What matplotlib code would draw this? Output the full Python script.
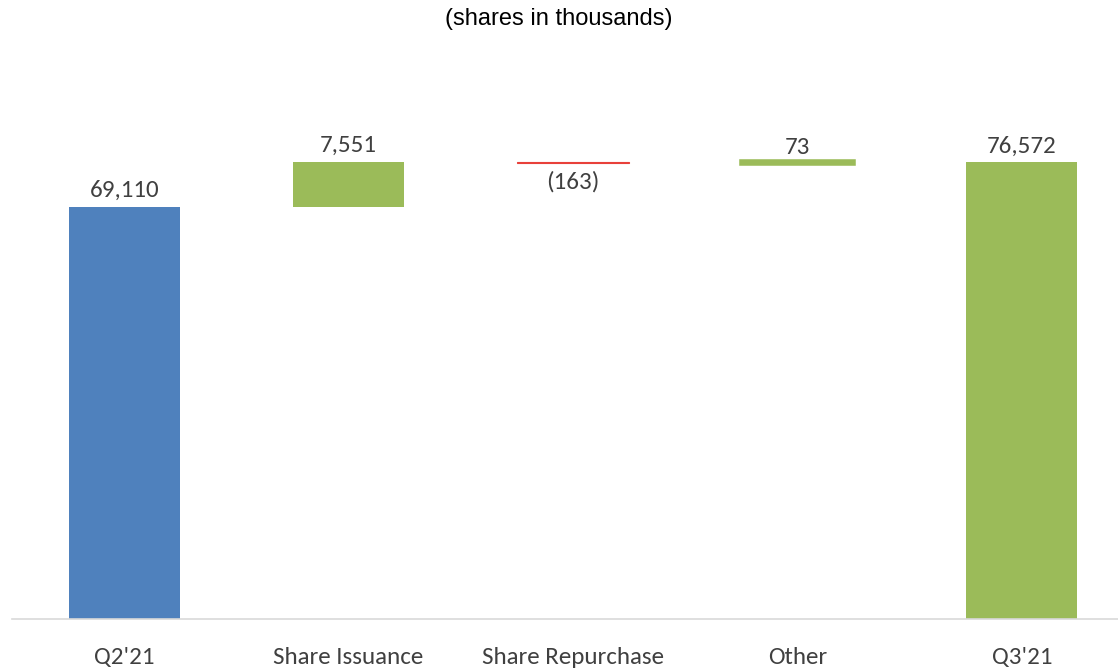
import matplotlib

matplotlib.use("Agg")
import matplotlib.pyplot as plt

# share count bridge, in thousands
categories = ["Q2'21", "Share Issuance", "Share Repurchase", "Other", "Q3'21"]
start_value = 69110
changes = [7551, -163, 73]
end_value = 76572

BLUE = "#4f81bd"
GREEN = "#9bbb59"
RED = "#e8403a"
TEXT = "#404040"


def fmt(v):
    return f"({abs(v):,})" if v < 0 else f"{v:,}"


fig = plt.figure(figsize=(11.18, 6.68), dpi=100)
ax = fig.add_axes([12 / 1118, 49 / 668, 1122 / 1118, 579 / 668])

x = range(len(categories))
width = 0.495
label_font = ["Carlito", "Lato", "DejaVu Sans"]
FS = 18

# opening total
ax.bar(0, start_value, width=width, color=BLUE)
ax.text(0, start_value + 1000, fmt(start_value), ha="center", va="bottom",
        fontsize=FS, color=TEXT, family=label_font)

# floating steps
level = start_value
for i, d in enumerate(changes, start=1):
    bottom = level if d >= 0 else level + d
    color = GREEN if d >= 0 else RED
    # thin steps get an edge of the same colour so they stay visible
    lw = 0 if abs(d) > 1000 else (4 if d > 0 else 0.8)
    ax.bar(i, abs(d), bottom=bottom, width=width, color=color,
           edgecolor=color, linewidth=lw)
    if d >= 0:
        ax.text(i, level + d + (1000 if abs(d) > 1000 else 700), fmt(d),
                ha="center", va="bottom", fontsize=FS, color=TEXT, family=label_font)
    else:
        ax.text(i, level + d - 1300, fmt(d), ha="center", va="top",
                fontsize=FS, color=TEXT, family=label_font)
    level += d

# closing total
ax.bar(4, end_value, width=width, color=GREEN)
ax.text(4, end_value + 1000, fmt(end_value), ha="center", va="bottom",
        fontsize=FS, color=TEXT, family=label_font)

ax.set_xlim(-0.5, 4.5)
ax.set_ylim(0, 97100)
ax.set_xticks(list(x))
ax.set_xticklabels(categories, fontsize=FS, color=TEXT, family=label_font)
ax.tick_params(axis="x", length=0, pad=20)
ax.set_yticks([])
for side in ("top", "right", "left"):
    ax.spines[side].set_visible(False)
ax.spines["bottom"].set_color("#d9d9d9")
ax.spines["bottom"].set_linewidth(1.2)

fig.text(0.5, 1 - 19 / 668, "(shares in thousands)", ha="center", va="center",
         fontsize=17, family="Liberation Sans", color="black")

fig.savefig("out.png", dpi=100)
